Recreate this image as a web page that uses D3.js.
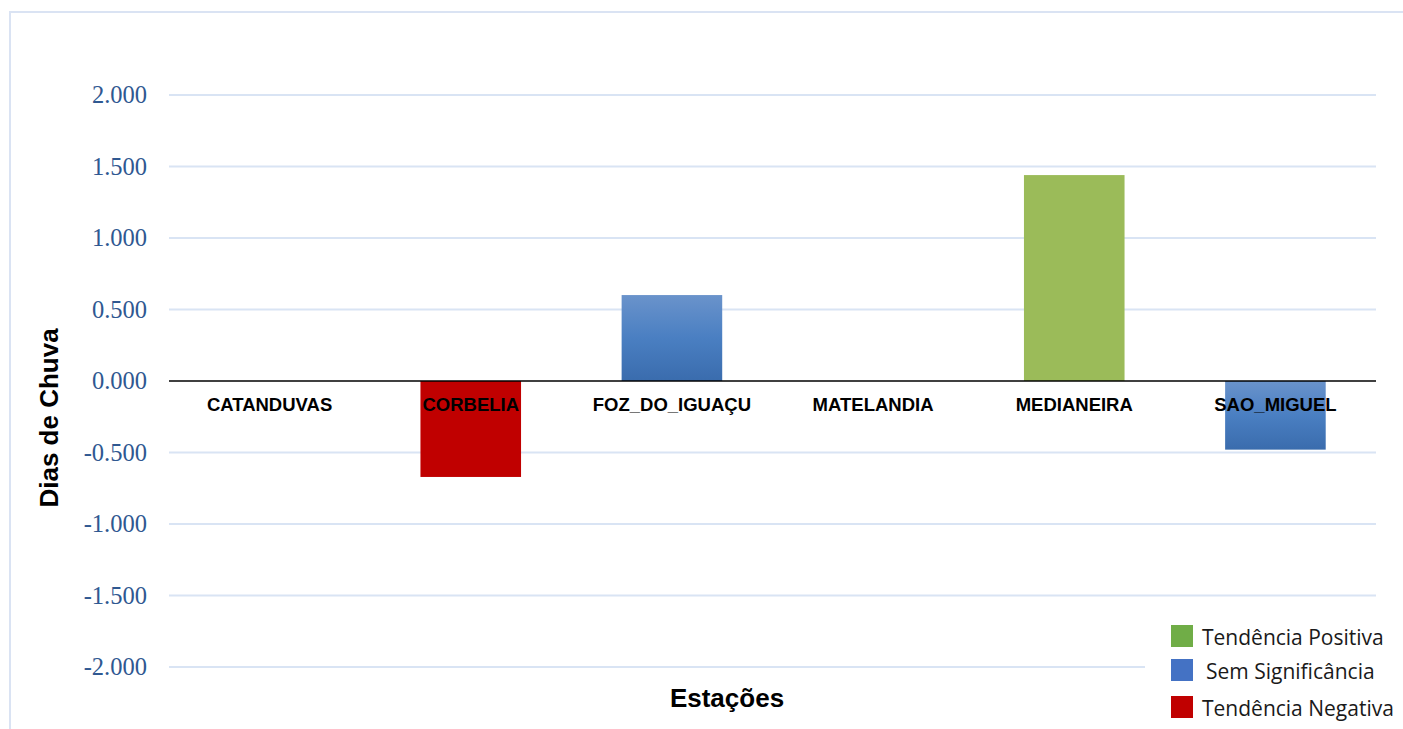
<!DOCTYPE html>
<html>
<head>
<meta charset="utf-8">
<script src="https://cdn.jsdelivr.net/npm/d3@7"></script>
<style>
  html, body { margin: 0; padding: 0; background: #fff; }
  svg { display: block; }
</style>
</head>
<body>
<svg id="chart" width="1403" height="729"></svg>
<script>
// Estações e valores de tendência (dias de chuva)
const stations = ["CATANDUVAS", "CORBELIA", "FOZ_DO_IGUAÇU", "MATELANDIA", "MEDIANEIRA", "SAO_MIGUEL"];
const values   = [0, -0.671, 0.601, 0, 1.44, -0.48];
const classes  = ["none", "neg", "sem", "none", "pos", "sem"];
const yTicks   = [-2, -1.5, -1, -0.5, 0, 0.5, 1, 1.5, 2];
const legendLabels = ["Tendência Positiva", "Sem Significância", "Tendência Negativa"];
const legendKeys   = ["pos", "sem", "neg"];

const svg = d3.select("#chart");
const W = 1403, H = 729;

// Moldura do gráfico
svg.append("path")
  .attr("d", `M10,${H} L10,12 L${W},12`)
  .attr("fill", "none").attr("stroke", "#dae3f3").attr("stroke-width", 2);

const plot = { left: 169, right: 1376, top: 95, bottom: 667 };

const x = d3.scaleBand().domain(stations).range([plot.left, plot.right]).paddingInner(0.5).paddingOuter(0.25);
const y = d3.scaleLinear().domain([-2, 2]).range([plot.bottom, plot.top]);

// Gradiente das barras azuis
const defs = svg.append("defs");
const gBlue = defs.append("linearGradient").attr("id", "gradBlue").attr("x1", 0).attr("y1", 0).attr("x2", 0).attr("y2", 1);
gBlue.append("stop").attr("offset", "0%").attr("stop-color", "#6a93cb");
gBlue.append("stop").attr("offset", "50%").attr("stop-color", "#4a7fc2");
gBlue.append("stop").attr("offset", "100%").attr("stop-color", "#3a6cad");

const fills = { pos: "#9bbb59", neg: "#c00000", sem: "url(#gradBlue)", none: "none" };
const legendFills = { pos: "#70ad47", sem: "#4472c4", neg: "#c00000" };

// Linhas de grade
svg.append("g").selectAll("line").data(yTicks.filter(d => d !== 0)).join("line")
  .attr("x1", plot.left).attr("x2", plot.right)
  .attr("y1", d => y(d)).attr("y2", d => y(d))
  .attr("stroke", "#d9e4f4").attr("stroke-width", 2);

// Eixo Y (rótulos)
const fmt = d => d3.format(".3f")(d).replace("−", "-");
const yAxis = d3.axisLeft(y).tickValues(yTicks).tickSize(0).tickPadding(0).tickFormat(fmt);
const gy = svg.append("g").attr("transform", `translate(147,0)`).call(yAxis);
gy.select(".domain").remove();
gy.selectAll("text")
  .attr("font-family", "'Liberation Serif', 'DejaVu Serif', serif")
  .attr("font-size", 24.5).attr("fill", "#2f5891");

// Barras
svg.append("g").selectAll("rect").data(stations).join("rect")
  .attr("x", d => x(d))
  .attr("width", x.bandwidth())
  .attr("y", (d, i) => y(Math.max(0, values[i])))
  .attr("height", (d, i) => Math.abs(y(values[i]) - y(0)))
  .attr("fill", (d, i) => fills[classes[i]]);

// Linha do zero
svg.append("line")
  .attr("x1", plot.left).attr("x2", plot.right)
  .attr("y1", y(0)).attr("y2", y(0))
  .attr("stroke", "#000").attr("stroke-width", 1.5);

// Rótulos das estações
svg.append("g").selectAll("text").data(stations).join("text")
  .attr("x", d => x(d) + x.bandwidth() / 2)
  .attr("y", y(0) + 30)
  .attr("text-anchor", "middle")
  .attr("font-family", "'Liberation Sans', Arial, sans-serif")
  .attr("font-weight", "bold").attr("font-size", 18.5).attr("fill", "#000")
  .text(d => d);

// Títulos dos eixos
svg.append("text")
  .attr("transform", `translate(58,${(plot.top + plot.bottom) / 2 + 37}) rotate(-90)`)
  .attr("text-anchor", "middle")
  .attr("font-family", "'Liberation Sans', Arial, sans-serif")
  .attr("font-weight", "bold").attr("font-size", 26).attr("fill", "#000")
  .text("Dias de Chuva");

svg.append("text")
  .attr("x", 727).attr("y", 707)
  .attr("text-anchor", "middle")
  .attr("font-family", "'Liberation Sans', Arial, sans-serif")
  .attr("font-weight", "bold").attr("font-size", 26).attr("fill", "#000")
  .text("Estações");

// Legenda
const legend = svg.append("g");
legend.append("rect").attr("x", 1145).attr("y", 612).attr("width", W - 1145).attr("height", H - 612).attr("fill", "#fff");
const rowY = [625, 659, 696];
const textX = [1202, 1206, 1202];
legendKeys.forEach((k, i) => {
  legend.append("rect").attr("x", 1171).attr("y", rowY[i]).attr("width", 22).attr("height", 22).attr("fill", legendFills[k]);
  legend.append("text")
    .attr("x", textX[i]).attr("y", rowY[i] + 20)
    .attr("font-family", "'Open Sans', 'Noto Sans', sans-serif")
    .attr("font-size", 21).attr("fill", "#1a1a1a")
    .text(legendLabels[i]);
});
</script>
</body>
</html>
